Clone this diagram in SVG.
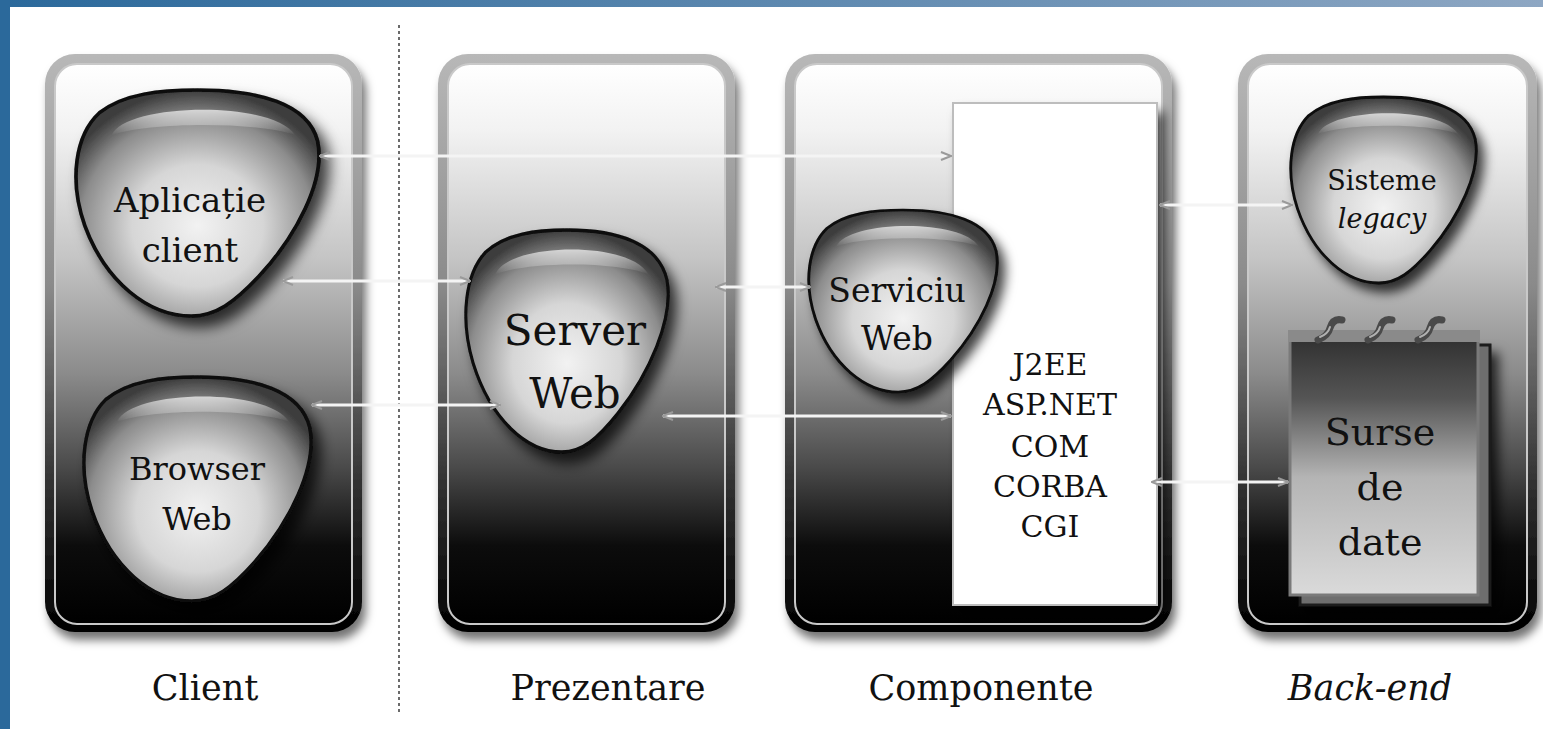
<svg xmlns="http://www.w3.org/2000/svg" xmlns:xlink="http://www.w3.org/1999/xlink" width="1543" height="729" viewBox="0 0 1543 729">
<style>
text{font-family:"DejaVu Serif","Liberation Serif",serif;fill:#111;text-anchor:middle}
.lbl{font-size:35px}
.it{font-style:italic}
.blob{fill:url(#blobFill);stroke:#0a0a0a;stroke-width:3;filter:url(#sh)}
.gloss{fill:url(#glossG)}
.conn{stroke:#f4f4f4;stroke-width:3;fill:none;marker-start:url(#ah);marker-end:url(#ah)}
.pOuter{fill:url(#edgeG);filter:url(#psh)}
.pInner{fill:url(#panelG);stroke:#c9c9c9;stroke-width:2}
</style>
<defs>
<linearGradient id="topBar" x1="0" y1="0" x2="1" y2="0">
<stop offset="0" stop-color="#2b699b"/><stop offset="1" stop-color="#8ea7c3"/>
</linearGradient>
<linearGradient id="edgeG" x1="0" y1="0" x2="0" y2="1">
<stop offset="0" stop-color="#b8b8b8"/><stop offset="0.4" stop-color="#8a8a8a"/><stop offset="0.75" stop-color="#303030"/><stop offset="1" stop-color="#000"/>
</linearGradient>
<linearGradient id="panelG" x1="0" y1="0" x2="0" y2="1">
<stop offset="0" stop-color="#ffffff"/><stop offset="0.12" stop-color="#f2f2f2"/><stop offset="0.35" stop-color="#c4c4c4"/><stop offset="0.55" stop-color="#8c8c8c"/><stop offset="0.72" stop-color="#4a4a4a"/><stop offset="0.86" stop-color="#0c0c0c"/><stop offset="1" stop-color="#000"/>
</linearGradient>
<radialGradient id="blobFill" cx="0.5" cy="0.6" r="0.6">
<stop offset="0" stop-color="#f2f2f2"/><stop offset="0.45" stop-color="#d6d6d6"/><stop offset="0.8" stop-color="#8c8c8c"/><stop offset="1" stop-color="#3c3c3c"/>
</radialGradient>
<linearGradient id="glossG" x1="0" y1="0" x2="0" y2="1">
<stop offset="0" stop-color="#fff" stop-opacity="0.7"/><stop offset="1" stop-color="#fff" stop-opacity="0"/>
</linearGradient>
<linearGradient id="padG" x1="0" y1="0" x2="0" y2="1">
<stop offset="0" stop-color="#2e2e2e"/><stop offset="0.25" stop-color="#555"/><stop offset="0.55" stop-color="#b4b4b4"/><stop offset="1" stop-color="#dadada"/>
</linearGradient>
<filter id="sh" x="-20%" y="-20%" width="150%" height="150%">
<feDropShadow dx="7" dy="9" stdDeviation="6" flood-color="#000" flood-opacity="0.75"/>
</filter>
<filter id="psh" x="-10%" y="-10%" width="125%" height="120%">
<feDropShadow dx="4" dy="8" stdDeviation="5" flood-color="#000" flood-opacity="0.55"/>
</filter>
<marker id="ah" viewBox="0 0 12 10" refX="11" refY="5" markerWidth="12" markerHeight="10" markerUnits="userSpaceOnUse" orient="auto-start-reverse">
<path d="M1 1 L11 5 L1 9" fill="none" stroke="#9a9a9a" stroke-width="2"/>
</marker>
<path id="blobShape" d="M 100 0 C 150 0, 190 12, 198 45 C 205 80, 180 130, 150 165 C 130 188, 115 200, 95 200 C 60 200, 25 170, 8 120 C -5 80, 0 40, 20 20 C 40 3, 70 0, 100 0 Z"/>
<path id="glossShape" d="M 30 40 C 40 12, 160 8, 180 40 C 150 28, 60 28, 30 40 Z"/>
</defs>

<rect x="0" y="0" width="1543" height="729" fill="#fff"/>
<rect x="0" y="0" width="1543" height="7" fill="url(#topBar)"/>
<rect x="0" y="0" width="10" height="729" fill="#2b699b"/>

<line x1="399" y1="25" x2="399" y2="712" stroke="#6a6a6a" stroke-width="2" stroke-dasharray="3 3"/>

<g id="panel-client">
<rect class="pOuter" x="45" y="54" width="317" height="578" rx="30"/>
<rect class="pInner" x="55" y="64" width="297" height="560" rx="22"/>
<text class="lbl" x="205" y="700">Client</text>
</g>
<g id="panel-prezentare">
<rect class="pOuter" x="438" y="54" width="297" height="578" rx="30"/>
<rect class="pInner" x="448" y="64" width="277" height="560" rx="22"/>
<text class="lbl" x="608" y="700">Prezentare</text>
</g>
<g id="panel-componente">
<rect class="pOuter" x="785" y="54" width="387" height="578" rx="30"/>
<rect class="pInner" x="795" y="64" width="367" height="560" rx="22"/>
<text class="lbl" x="981" y="700">Componente</text>
</g>
<g id="panel-backend">
<rect class="pOuter" x="1238" y="54" width="299" height="578" rx="30"/>
<rect class="pInner" x="1248" y="64" width="279" height="560" rx="22"/>
<text class="lbl it" x="1370" y="700">Back-end</text>
</g>

<g id="container-platforme">
<rect x="953" y="103" width="204" height="502" fill="#fff" filter="url(#sh)"/>
<rect x="953" y="103" width="204" height="502" fill="none" stroke="#bdbdbd" stroke-width="2"/>
<text x="1050" y="375" font-size="30">J2EE</text>
<text x="1050" y="415" font-size="30">ASP.NET</text>
<text x="1050" y="457" font-size="30">COM</text>
<text x="1050" y="497" font-size="30">CORBA</text>
<text x="1050" y="537" font-size="30">CGI</text>
</g>

<g id="node-aplicatie">
<use href="#blobShape" class="blob" transform="translate(75,90) scale(1.225,1.13)"/>
<use href="#glossShape" class="gloss" transform="translate(75,90) scale(1.225,1.13)"/>
<text x="190" y="212" font-size="34">Aplicație</text>
<text x="190" y="262" font-size="34">client</text>
</g>

<g id="node-browser">
<use href="#blobShape" class="blob" transform="translate(83,377) scale(1.145,1.12)"/>
<use href="#glossShape" class="gloss" transform="translate(83,377) scale(1.145,1.12)"/>
<text x="197" y="480" font-size="32">Browser</text>
<text x="197" y="530" font-size="32">Web</text>
</g>

<g id="node-server">
<use href="#blobShape" class="blob" transform="translate(465,230) scale(1.02,1.11)"/>
<use href="#glossShape" class="gloss" transform="translate(465,230) scale(1.02,1.11)"/>
<text x="575" y="345" font-size="42">Server</text>
<text x="575" y="408" font-size="42">Web</text>
</g>

<g id="node-serviciu">
<use href="#blobShape" class="blob" transform="translate(808,210) scale(0.95,0.91)"/>
<use href="#glossShape" class="gloss" transform="translate(808,210) scale(0.95,0.91)"/>
<text x="897" y="302" font-size="33">Serviciu</text>
<text x="897" y="350" font-size="33">Web</text>
</g>

<g id="node-sisteme">
<use href="#blobShape" class="blob" transform="translate(1290,97) scale(0.935,0.93)"/>
<use href="#glossShape" class="gloss" transform="translate(1290,97) scale(0.935,0.93)"/>
<text x="1382" y="190" font-size="27">Sisteme</text>
<text class="it" x="1382" y="228" font-size="27">legacy</text>
</g>

<g id="node-surse">
<rect x="1300" y="345" width="190" height="260" fill="#6e6e6e" stroke="#1a1a1a" stroke-width="3" filter="url(#sh)"/>
<rect x="1290" y="333" width="188" height="262" fill="url(#padG)" stroke="#7a7a7a" stroke-width="3"/>
<rect x="1288" y="330" width="192" height="12" fill="#8a8a8a"/>
<path d="M1318 340 q10 -4 12 -12 q3 -10 12 -8 M1368 340 q10 -4 12 -12 q3 -10 12 -8 M1418 340 q10 -4 12 -12 q3 -10 12 -8" fill="none" stroke="#4a4a4a" stroke-width="7" stroke-linecap="round"/>
<path d="M1320 337 q8 -3 10 -10 M1370 337 q8 -3 10 -10 M1420 337 q8 -3 10 -10" fill="none" stroke="#b0b0b0" stroke-width="2" stroke-linecap="round"/>
<text x="1380" y="445" font-size="38">Surse</text>
<text x="1380" y="500" font-size="38">de</text>
<text x="1380" y="555" font-size="38">date</text>
</g>

<g id="connectors">
<line class="conn" x1="320" y1="156" x2="951" y2="156"/>
<line class="conn" x1="283" y1="281" x2="470" y2="281"/>
<line class="conn" x1="312" y1="405" x2="500" y2="405"/>
<line class="conn" x1="716" y1="287" x2="810" y2="287"/>
<line class="conn" x1="663" y1="416" x2="951" y2="416"/>
<line class="conn" x1="1160" y1="205" x2="1292" y2="205"/>
<line class="conn" x1="1152" y1="482" x2="1288" y2="482"/>
</g>
</svg>
